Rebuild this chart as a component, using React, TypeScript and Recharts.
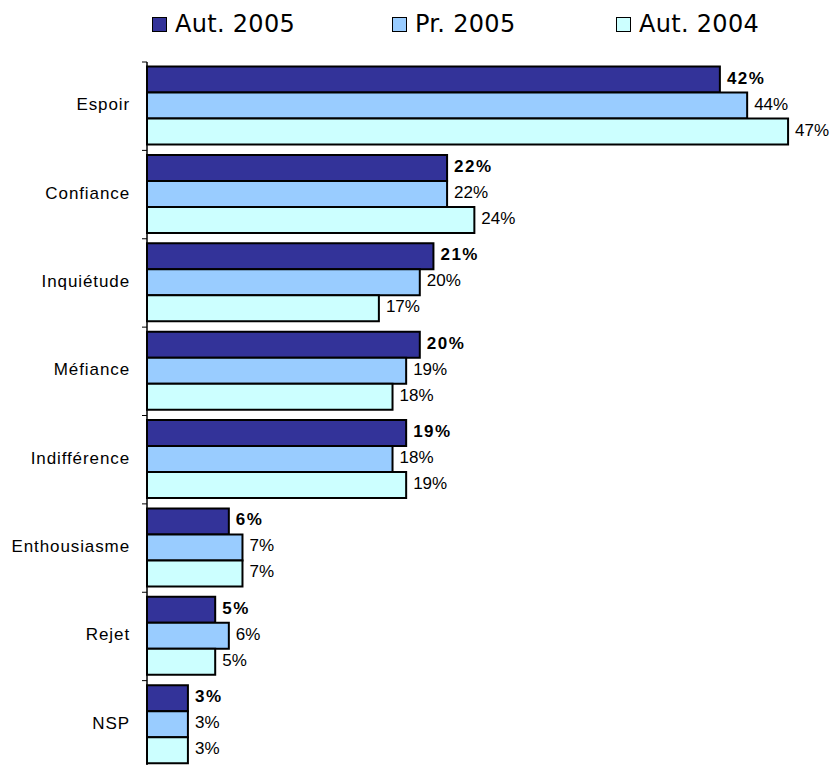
import React from "react";
import { Bar, BarChart, LabelList, Legend, XAxis, YAxis } from "recharts";

const categories = ["Espoir", "Confiance", "Inquiétude", "Méfiance", "Indifférence", "Enthousiasme", "Rejet", "NSP"];
const aut2005 = [42, 22, 21, 20, 19, 6, 5, 3];
const pr2005 = [44, 22, 20, 19, 18, 7, 6, 3];
const aut2004 = [47, 24, 17, 18, 19, 7, 5, 3];

const seriesNames = ["Aut. 2005", "Pr. 2005", "Aut. 2004"];
const seriesColors = ["#333399", "#99CCFF", "#CCFFFF"];

const data = categories.map((name, i) => ({
  name,
  a2005: aut2005[i],
  p2005: pr2005[i],
  a2004: aut2004[i],
}));

const legendLeft = [152, 392, 616];

const LegendContent = () => (
  <div style={{ position: "relative", width: 833, height: 50 }}>
    {seriesNames.map((n, i) => (
      <div
        key={n}
        style={{ position: "absolute", left: legendLeft[i], top: 10, display: "flex", alignItems: "center" }}
      >
        <span
          style={{
            display: "inline-block",
            width: 13,
            height: 13,
            background: seriesColors[i],
            border: "1.5px solid #000",
            marginRight: 8,
          }}
        />
        <span style={{ fontFamily: "DejaVu Sans", fontSize: 24, color: "#000", letterSpacing: 0.3, lineHeight: "28px" }}>
          {n}
        </span>
      </div>
    ))}
  </div>
);

const CategoryTick = (props: any) => {
  const { x, y, payload, index, visibleTicksCount } = props;
  const half = payload?.offset ?? 44;
  const last = index === visibleTicksCount - 1;
  return (
    <g>
      <line x1={x - 5} x2={x} y1={y - half} y2={y - half} stroke="#000" strokeWidth={1} />
      {last && <line x1={x - 5} x2={x} y1={y + half} y2={y + half} stroke="#000" strokeWidth={1} />}
      <text
        x={x - 17}
        y={y + 4}
        textAnchor="end"
        fontFamily="'Liberation Sans', Arial"
        fontSize={17}
        letterSpacing={0.9}
        fill="#000"
      >
        {payload.value}
      </text>
    </g>
  );
};

const makeLabel = (bold: boolean) => (props: any) => {
  const { x, y, width, height, value } = props;
  return (
    <text
      x={x + width + 7}
      y={y + height / 2 + 4}
      fontFamily="'Liberation Sans', Arial"
      fontSize={17}
      fontWeight={bold ? "bold" : "normal"}
      letterSpacing={bold ? 1.5 : 0}
      fill="#000"
    >
      {value}%
    </text>
  );
};

export default function App() {
  return (
    <div style={{ position: "absolute", left: 0, top: 0, width: 833, height: 765, overflow: "hidden", background: "#fff" }}>
      <BarChart
        width={833}
        height={775}
        data={data}
        layout="vertical"
        margin={{ top: 62, right: 4, bottom: 6, left: 0 }}
        barCategoryGap={4.5}
        barGap={0}
      >
        <XAxis type="number" domain={[0, 50]} hide />
        <YAxis
          type="category"
          dataKey="name"
          width={147}
          axisLine={{ stroke: "#000", strokeWidth: 1.5 }}
          tickLine={false}
          tickSize={0}
          tickMargin={0}
          tick={<CategoryTick />}
          interval={0}
        />
        <Legend
          layout="horizontal"
          verticalAlign="middle"
          align="center"
          wrapperStyle={{ top: 0, left: 0, width: 833, height: 50 }}
          content={<LegendContent />}
        />
        <Bar dataKey="a2005" name={seriesNames[0]} fill={seriesColors[0]} stroke="#000" strokeWidth={2} isAnimationActive={false}>
          <LabelList dataKey="a2005" content={makeLabel(true)} />
        </Bar>
        <Bar dataKey="p2005" name={seriesNames[1]} fill={seriesColors[1]} stroke="#000" strokeWidth={2} isAnimationActive={false}>
          <LabelList dataKey="p2005" content={makeLabel(false)} />
        </Bar>
        <Bar dataKey="a2004" name={seriesNames[2]} fill={seriesColors[2]} stroke="#000" strokeWidth={2} isAnimationActive={false}>
          <LabelList dataKey="a2004" content={makeLabel(false)} />
        </Bar>
      </BarChart>
    </div>
  );
}
